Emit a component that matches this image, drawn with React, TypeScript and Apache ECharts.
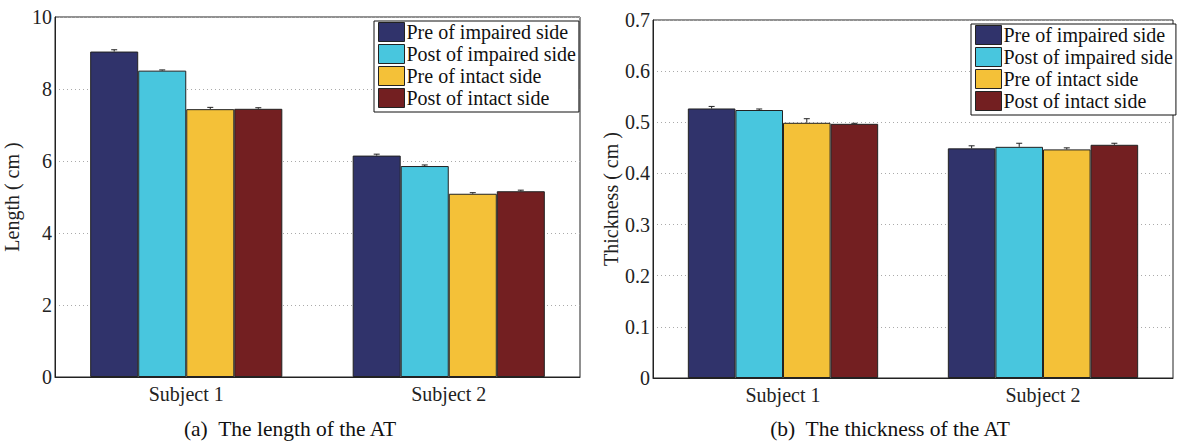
import React, { useEffect, useRef } from "react";
import * as echarts from "echarts";

const categories = ["Subject 1", "Subject 2"];
const seriesNames = ["Pre of impaired side", "Post of impaired side", "Pre of intact side", "Post of intact side"];
const colors = ["#30336b", "#48c6de", "#f4c138", "#731f21"];

// (a) length (cm)
const lengthPreImpaired = [9.04, 6.15];
const lengthPostImpaired = [8.51, 5.86];
const lengthPreIntact = [7.44, 5.09];
const lengthPostIntact = [7.45, 5.16];
const lengthErrPreImpaired = [0.05, 0.04];
const lengthErrPostImpaired = [0.02, 0.03];
const lengthErrPreIntact = [0.05, 0.03];
const lengthErrPostIntact = [0.03, 0.03];

// (b) thickness (cm)
const thickPreImpaired = [0.527, 0.449];
const thickPostImpaired = [0.524, 0.452];
const thickPreIntact = [0.499, 0.447];
const thickPostIntact = [0.497, 0.456];
const thickErrPreImpaired = [0.004, 0.005];
const thickErrPostImpaired = [0.002, 0.007];
const thickErrPreIntact = [0.008, 0.003];
const thickErrPostIntact = [0.001, 0.003];

const FONT = "Liberation Serif";
const BAR_FRAC = 0.183;

export default function App() {
  const ref = useRef<HTMLDivElement>(null);
  useEffect(() => {
    document.body.style.margin = "0";
    if (!ref.current) return;
    const chart = echarts.init(ref.current, undefined, { renderer: "svg" });

    const lengthSets = [lengthPreImpaired, lengthPostImpaired, lengthPreIntact, lengthPostIntact];
    const lengthErrs = [lengthErrPreImpaired, lengthErrPostImpaired, lengthErrPreIntact, lengthErrPostIntact];
    const thickSets = [thickPreImpaired, thickPostImpaired, thickPreIntact, thickPostIntact];
    const thickErrs = [thickErrPreImpaired, thickErrPostImpaired, thickErrPreIntact, thickErrPostIntact];

    const barSeries = (sets: number[][], gi: number) =>
      sets.map((vals, i) => ({
        type: "bar",
        name: seriesNames[i],
        xAxisIndex: gi,
        yAxisIndex: gi,
        data: vals,
        barWidth: (BAR_FRAC * 100).toFixed(1) + "%",
        barGap: "0%",
        itemStyle: { color: colors[i], borderColor: "#222", borderWidth: 1 },
        z: 2,
      }));

    const errSeries = (sets: number[][], errs: number[][], gi: number) => {
      const data: number[][] = [];
      sets.forEach((vals, i) => vals.forEach((v, c) => data.push([c, i, v, errs[i][c]])));
      return {
        type: "custom",
        xAxisIndex: gi,
        yAxisIndex: gi,
        z: 5,
        encode: { x: 0, y: 2 },
        data,
        renderItem: (params: any, api: any) => {
          const c = api.value(0);
          const idx = api.value(1);
          const v = api.value(2);
          const e = api.value(3);
          const catW = api.size([1, 0])[0];
          const off = (idx - 1.5) * catW * BAR_FRAC;
          const base = api.coord([c, v]);
          const top = api.coord([c, v + e]);
          const x = base[0] + off;
          const st = { stroke: "#222", lineWidth: 1 };
          return {
            type: "group",
            children: [
              { type: "line", shape: { x1: x, y1: base[1], x2: x, y2: top[1] }, style: st },
              { type: "line", shape: { x1: x - 3, y1: top[1], x2: x + 3, y2: top[1] }, style: st },
            ],
          };
        },
      };
    };

    const axisLabelStyle = { fontFamily: FONT, fontSize: 20, color: "#222" };
    const legendCommon = {
      orient: "vertical",
      data: seriesNames,
      icon: "rect",
      itemWidth: 26,
      itemHeight: 19,
      itemGap: 2,
      itemStyle: { borderColor: "#222", borderWidth: 1 },
      backgroundColor: "#fff",
      borderColor: "#111",
      borderWidth: 1,
      padding: [1, 3, 4, 4],
      textStyle: { fontFamily: FONT, fontSize: 20, color: "#111", padding: [0, 0, 0, -3], lineHeight: 20 },
      selectedMode: false,
      z: 10,
    };

    const yAxisCommon = {
      type: "value",
      nameLocation: "middle",
      nameRotate: 90,
      nameTextStyle: { fontFamily: FONT, fontSize: 20, color: "#222" },
      axisLine: { show: true, lineStyle: { color: "#222", width: 1 } },
      axisTick: { show: false },
      axisLabel: { ...axisLabelStyle, margin: 3 },
      splitLine: { show: true, lineStyle: { color: "#aaa", type: [1, 3], width: 1 } },
    };
    const xAxisCommon = {
      type: "category",
      data: categories,
      axisLine: { show: true, lineStyle: { color: "#222", width: 1 } },
      axisTick: { show: false },
      axisLabel: { ...axisLabelStyle, margin: 7 },
    };

    chart.setOption({
      animation: false,
      backgroundColor: "#fff",
      textStyle: { fontFamily: FONT },
      grid: [
        { left: 55, right: 598, top: 17, bottom: 66, show: true, borderColor: "#222", borderWidth: 1 },
        { left: 653, right: 5, top: 20, bottom: 65, show: true, borderColor: "#222", borderWidth: 1 },
      ],
      xAxis: [
        { ...xAxisCommon, gridIndex: 0 },
        { ...xAxisCommon, gridIndex: 1 },
      ],
      yAxis: [
        { ...yAxisCommon, gridIndex: 0, min: 0, max: 10, interval: 2, name: "Length ( cm )", nameGap: 33 },
        { ...yAxisCommon, gridIndex: 1, min: 0, max: 0.7, interval: 0.1, name: "Thickness ( cm )", nameGap: 32 },
      ],
      legend: [
        { ...legendCommon, left: 374, top: 21 },
        { ...legendCommon, left: 971, top: 24 },
      ],
      graphic: [
        { type: "text", x: 290, y: 429, style: { text: "(a)  The length of the AT", fontFamily: FONT, fontSize: 21.5, fill: "#111", textAlign: "center", textVerticalAlign: "middle" } },
        { type: "text", x: 890, y: 429, style: { text: "(b)  The thickness of the AT", fontFamily: FONT, fontSize: 21.5, fill: "#111", textAlign: "center", textVerticalAlign: "middle" } },
      ],
      series: [
        ...barSeries(lengthSets, 0),
        ...barSeries(thickSets, 1),
        errSeries(lengthSets, lengthErrs, 0),
        errSeries(thickSets, thickErrs, 1),
      ],
    });
    return () => chart.dispose();
  }, []);
  return <div ref={ref} style={{ width: 1178, height: 443 }} />;
}
